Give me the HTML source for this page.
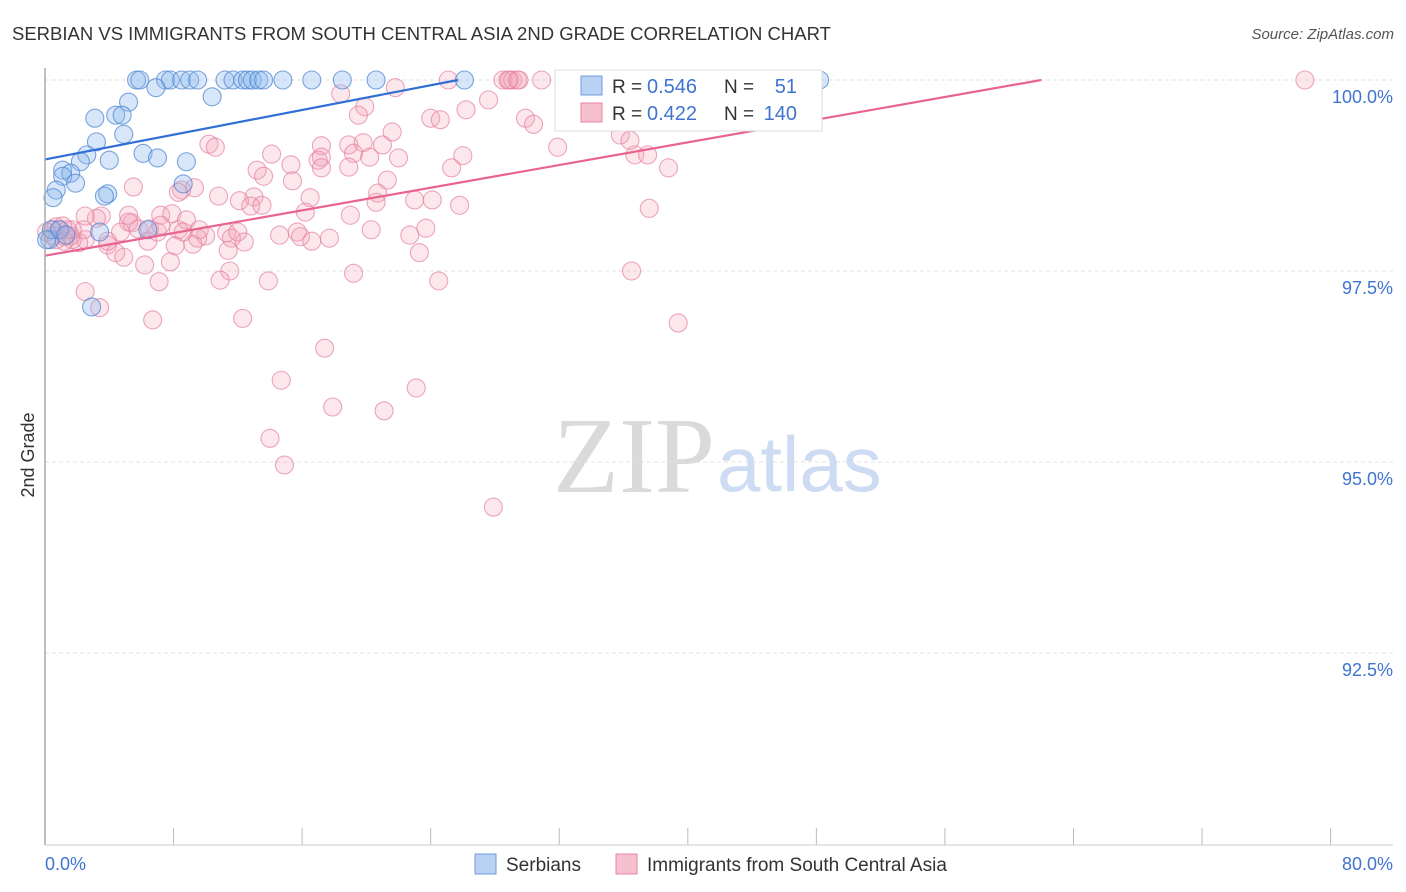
<!DOCTYPE html>
<html><head><meta charset="utf-8"><style>
body{margin:0;background:#fff;font-family:"Liberation Sans",sans-serif;}
svg{display:block}
</style></head><body>
<svg id="chart" width="1406" height="892">
<text x="12" y="40" font-size="18.5" fill="#333">SERBIAN VS IMMIGRANTS FROM SOUTH CENTRAL ASIA 2ND GRADE CORRELATION CHART</text>
<text x="1394" y="39" font-size="15" fill="#555" font-style="italic" text-anchor="end">Source: ZipAtlas.com</text>
<text x="553" y="492" font-size="108" fill="#dadada" font-family="Liberation Serif,serif">ZIP</text>
<text x="717" y="491" font-size="78" fill="#cddcf2">atlas</text>
<text transform="translate(34,455) rotate(-90)" font-size="18" fill="#333" text-anchor="middle">2nd Grade</text>
<g id="grid"></g><g id="pts"></g><g id="lines"></g>
<line x1="45" y1="68" x2="45" y2="845" stroke="#aaa" stroke-width="1.5"/>
<line x1="45" y1="845" x2="1393" y2="845" stroke="#ccc"/>
<text x="45" y="870" font-size="18" fill="#3f74d1">0.0%</text>
<text x="1393" y="870" font-size="18" fill="#3f74d1" text-anchor="end">80.0%</text>
<g>
<rect x="555" y="70" width="267" height="61" fill="#fff" stroke="#ddd"/>
<rect x="581" y="76" width="21" height="19" fill="#b9d1f2" stroke="#6f9be0"/>
<text x="612" y="93" font-size="19" fill="#333">R =</text>
<text x="647" y="93" font-size="20" fill="#3f74d1">0.546</text>
<text x="724" y="93" font-size="19" fill="#333">N =</text>
<text x="797" y="93" font-size="20" fill="#3f74d1" text-anchor="end">51</text>
<rect x="581" y="103" width="21" height="19" fill="#f6c0d0" stroke="#e8849f"/>
<text x="612" y="120" font-size="19" fill="#333">R =</text>
<text x="647" y="120" font-size="20" fill="#3f74d1">0.422</text>
<text x="724" y="120" font-size="19" fill="#333">N =</text>
<text x="797" y="120" font-size="20" fill="#3f74d1" text-anchor="end">140</text>
</g>
<g>
<rect x="475" y="854" width="21" height="20" fill="#b9d1f2" stroke="#6f9be0"/>
<text x="506" y="871" font-size="19" fill="#333">Serbians</text>
<rect x="616" y="854" width="21" height="20" fill="#f6c0d0" stroke="#e8849f"/>
<text x="647" y="871" font-size="19" fill="#333">Immigrants from South Central Asia</text>
</g>
</svg>
<script>
const yTicks=[100,97.5,95,92.5];
const yTickLabels=["100.0%","97.5%","95.0%","92.5%"];
const xTicks=[0,8,16,24,32,40,48,56,64,72,80];
const blueX=[5.7,5.9,7.5,7.8,8.5,9.0,9.5,11.2,11.7,12.3,12.6,12.9,13.3,13.6,14.8,16.6,18.5,20.6,26.1,48.2,6.9,10.4,5.2,3.1,4.4,4.8,4.9,3.2,2.6,2.2,4.0,6.1,7.0,8.8,1.1,1.6,1.1,1.9,0.7,0.5,3.9,8.6,3.4,6.4,2.9,0.3,0.4,0.9,1.3,0.1,3.7];
const blueY=[100,100,100,100,100,100,100,100,100,100,100,100,100,100,100,100,100,100,100,100,99.90,99.78,99.71,99.50,99.54,99.54,99.29,99.19,99.02,98.93,98.95,99.04,98.98,98.93,98.82,98.78,98.74,98.65,98.56,98.46,98.51,98.64,98.01,98.04,97.03,97.91,98.04,98.04,97.97,97.91,98.48];
const pinkX=[25.1,28.5,28.8,29.1,29.5,30.9,32.9,35.8,41.6,78.4,29.4,28.9,18.4,21.8,27.6,19.9,19.5,33.1,29.9,30.4,26.2,24.0,24.6,21.6,18.9,17.2,19.8,21.0,19.2,20.2,17.0,17.2,18.9,22.0,26.0,35.8,36.4,31.9,36.7,37.5,38.8,37.6,10.2,10.6,14.1,15.3,15.4,17.2,13.2,13.6,21.3,20.7,20.6,23.0,24.1,25.8,25.3,5.5,9.3,10.8,13.0,12.1,16.5,16.2,8.5,8.3,5.4,5.2,3.5,3.2,7.2,7.9,8.8,5.2,8.3,10.0,11.3,11.6,12.4,12.8,13.5,14.6,15.7,15.9,16.6,17.7,20.3,22.7,23.7,23.3,19.2,24.5,36.5,39.4,4.7,5.8,6.4,3.9,2.5,1.7,2.1,4.4,4.9,6.2,7.1,7.8,9.2,9.5,11.4,11.5,10.9,13.9,2.5,3.4,6.7,12.3,17.4,14.7,23.1,17.9,21.1,14.0,14.9,27.9,0.7,0.9,1.2,0.5,1.6,2.4,9.6,8.6,1.1,3.9,2.5,1.7,6.5,12.0,7.0,19.0,7.2,1.4,0.5,0.1,0.7,1.2,8.1];
const pinkY=[100,100,100,100,100,100,100,100,100,100,100,100,99.82,99.90,99.74,99.65,99.54,99.52,99.50,99.42,99.61,99.50,99.48,99.32,99.15,99.14,99.18,99.15,99.04,98.99,98.95,98.99,98.86,98.98,99.01,99.28,99.21,99.12,99.02,99.02,98.85,98.32,99.16,99.12,99.03,98.89,98.68,98.85,98.82,98.74,98.69,98.52,98.40,98.43,98.43,98.36,98.85,98.60,98.59,98.48,98.47,98.42,98.46,98.27,98.56,98.53,98.13,98.23,98.22,98.19,98.23,98.25,98.17,98.14,98.04,97.96,98.00,97.93,97.88,98.35,98.36,97.97,98.01,97.95,97.89,97.93,98.04,97.97,98.06,97.74,97.47,97.37,97.50,96.82,98.01,98.05,97.89,97.84,97.91,97.91,97.87,97.74,97.68,97.58,97.36,97.62,97.85,97.93,97.77,97.50,97.38,97.37,97.23,97.02,96.86,96.88,96.49,96.07,95.97,95.72,95.67,95.31,94.96,94.41,98.08,98.04,97.95,97.96,97.96,98.04,98.04,98.01,98.09,97.89,98.22,98.04,98.05,98.01,98.01,98.23,98.10,98.04,98.04,98.01,97.91,97.89,97.83];
const blueTrend=[0,98.96,25.7,100];
const pinkTrend=[0,97.70,62.0,100];
const NS='http://www.w3.org/2000/svg';
const X=v=>45+v*16.07, Y=v=>80+(100-v)*76.4;
function mk(t,a,p){const e=document.createElementNS(NS,t);for(const k in a)e.setAttribute(k,a[k]);p.appendChild(e);return e;}
const grid=document.getElementById('grid');
yTicks.forEach((t,i)=>{
 const l=mk('line',{x1:45,x2:1393,y1:Y(t),y2:Y(t),stroke:'#e2e2e2','stroke-dasharray':'4,3'},grid);
 
 
 const tx=mk('text',{x:1393,y:Y(t)+23,'font-size':18,fill:'#3f74d1','text-anchor':'end'},grid);
 tx.textContent=yTickLabels[i];
 
 
});
xTicks.forEach(t=>{
 const l=mk('line',{x1:X(t),x2:X(t),y1:828,y2:845,stroke:'#bbb'},grid);
 
 
});
const pts=document.getElementById('pts');
pinkX.forEach((x,i)=>{
 const c=mk('circle',{cx:X(x),cy:Y(pinkY[i]),r:9,fill:'rgba(244,160,185,0.25)',stroke:'rgba(228,130,160,0.7)','stroke-width':1.1},pts);
 
 
});
blueX.forEach((x,i)=>{
 const c=mk('circle',{cx:X(x),cy:Y(blueY[i]),r:9,fill:'rgba(140,185,238,0.35)',stroke:'rgba(80,135,210,0.75)','stroke-width':1.1},pts);
 
 
});
const lines=document.getElementById('lines');
const bl=mk('line',{x1:X(blueTrend[0]),y1:Y(blueTrend[1]),x2:X(blueTrend[2]),y2:Y(blueTrend[3]),stroke:'#2f6fd6','stroke-width':2.2},lines);


const pl=mk('line',{x1:X(pinkTrend[0]),y1:Y(pinkTrend[1]),x2:X(pinkTrend[2]),y2:Y(pinkTrend[3]),stroke:'#e8648f','stroke-width':2.2},lines);


</script>
</body></html>
